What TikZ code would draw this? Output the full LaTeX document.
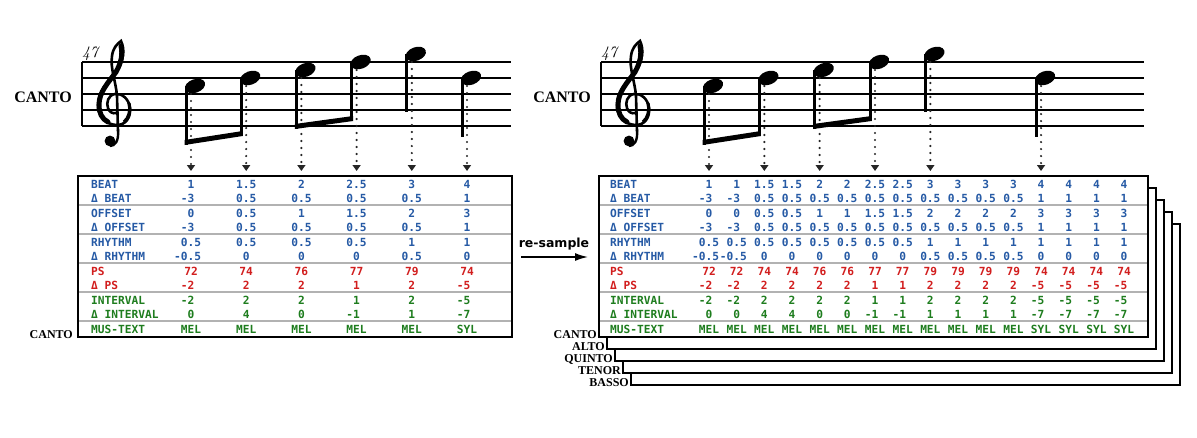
\documentclass[tikz,border=0pt]{standalone}
\usepackage{fontspec}
\newfontfamily\tablefont{DejaVu Sans Mono}
\newfontfamily\canto{Liberation Serif}
\newfontfamily\dejavu{DejaVu Sans}
\usetikzlibrary{arrows.meta,shapes.geometric}
\definecolor{blu}{RGB}{38,90,165}
\definecolor{rd}{RGB}{210,30,30}
\definecolor{grn}{RGB}{30,125,30}

% minus sign hangs left of the centred number
\newcommand\signed[1]{\expandafter\signedaux#1\relax}
\def\signedaux#1#2\relax{\ifx-#1\llap{-}#2\else#1#2\fi}

% staff, clef, bar number and part name
\newcommand\stave[3]{%
\begin{scope}[xshift=#1]
\foreach \ly in {62,78,94,110,126} \draw[staffline] (82,\ly) -- (#2,\ly);
\draw[staffline] (82,62) -- (82,126);
\node[font=\canto\bfseries\fontsize{16}{16}\selectfont,anchor=base east,inner sep=0] (part#3) at (72,102) {CANTO};
\node[font=\itshape\fontsize{16}{16}\selectfont,anchor=base west,inner sep=0] (bar#3) at (82,57) {47};
\draw[line width=2.6,line cap=round] (118,131) -- (117,96) .. controls (116,82) and (110,68) .. (112,56)
  .. controls (113,48) and (117,44) .. (121,41) .. controls (125,49) and (124,61) .. (116,72)
  .. controls (108,83) and (98,92) .. (98,105) .. controls (98,118) and (108,125) .. (117,125)
  .. controls (126,125) and (131,117) .. (130,108) .. controls (129,99) and (122,93) .. (115,94)
  .. controls (108,95) and (106,103) .. (108,108) .. controls (109,112) and (113,114) .. (116,113);
\draw[line width=5,line cap=round] (121,46) .. controls (123,55) and (121,63) .. (116,72)
  .. controls (108,83) and (99,92) .. (99,105) .. controls (99,113) and (102,119) .. (108,122);
\draw[line width=3.2] (129,103) .. controls (131,110) and (129,118) .. (124,122);
\draw[line width=2.4] (118,130) .. controls (119,141) and (115,146) .. (110,146);
\fill (110,141) circle (5.4);
\end{scope}}

\begin{document}
\begin{tikzpicture}[x=1pt,y=-1pt,
  staffline/.style={line width=1.4},
  head/.style={ellipse,fill,inner sep=0,minimum width=21,minimum height=13.5,rotate=20},
  dotarrow/.style={draw=black!85,line width=2.4,line cap=round,dash pattern=on 0pt off 7pt,
    -{Triangle[width=8pt,length=6pt]}},
  frame/.style={line width=2,fill=white},
  sep/.style={line width=1.2,gray!60},
  cell/.style={font=\tablefont\bfseries\fontsize{11.2}{12}\selectfont,inner sep=0,anchor=base},
  voice/.style={font=\canto\bfseries\fontsize{12}{12}\selectfont,inner sep=0,anchor=base east}]
\useasboundingbox (0,0) rectangle (1197,437);

\stave{0}{511}{L}
\stave{519}{625}{R}

% notes over the left table
\foreach \nn/\hy/\stemend in {1/86/145,2/78/136,3/70/129,4/62/121,5/54/112,6/78/137}{
  \pgfmathsetmacro\cx{191+55.2*(\nn-1)}
  \node[head] (hL\nn) at (\cx+4,\hy) {};
  \fill (\cx-6.5,\hy) rectangle (\cx-3.5,\stemend);
  \coordinate (sL\nn) at (\cx-5,\stemend);
  \coordinate (aL\nn) at (\cx,171);
  \draw[dotarrow] ([shift={(-4,8)}]hL\nn.center) -- (aL\nn);
}
\fill ([xshift=-1.5pt]sL1) -- ([xshift=1.5pt]sL2) -- ([shift={(1.5,-5)}]sL2) -- ([shift={(-1.5,-5)}]sL1) -- cycle;
\fill ([xshift=-1.5pt]sL3) -- ([xshift=1.5pt]sL4) -- ([shift={(1.5,-5)}]sL4) -- ([shift={(-1.5,-5)}]sL3) -- cycle;

% notes over the re-sampled table
\foreach \nn/\kk/\hy/\stemend in {1/1/86/145,2/3/78/136,3/5/70/129,4/7/62/121,5/9/54/112,6/13/78/137}{
  \pgfmathsetmacro\cx{709+27.67*(\kk-1)}
  \node[head] (hR\nn) at (\cx+4,\hy) {};
  \fill (\cx-6.5,\hy) rectangle (\cx-3.5,\stemend);
  \coordinate (sR\nn) at (\cx-5,\stemend);
  \coordinate (aR\nn) at (\cx,171);
  \draw[dotarrow] ([shift={(-4,8)}]hR\nn.center) -- (aR\nn);
}
\fill ([xshift=-1.5pt]sR1) -- ([xshift=1.5pt]sR2) -- ([shift={(1.5,-5)}]sR2) -- ([shift={(-1.5,-5)}]sR1) -- cycle;
\fill ([xshift=-1.5pt]sR3) -- ([xshift=1.5pt]sR4) -- ([shift={(1.5,-5)}]sR4) -- ([shift={(-1.5,-5)}]sR3) -- cycle;

% left table
\draw[frame] (78,176) rectangle (512,337);
\foreach \ns in {1,...,5} \draw[sep] (79,176+29*\ns) -- (511,176+29*\ns);
\foreach \lab/\clr/\vals [count=\row] in {
  BEAT/blu/{1,1.5,2,2.5,3,4},
  Δ BEAT/blu/{-3,0.5,0.5,0.5,0.5,1},
  OFFSET/blu/{0,0.5,1,1.5,2,3},
  Δ OFFSET/blu/{-3,0.5,0.5,0.5,0.5,1},
  RHYTHM/blu/{0.5,0.5,0.5,0.5,1,1},
  Δ RHYTHM/blu/{-0.5,0,0,0,0.5,0},
  PS/rd/{72,74,76,77,79,74},
  Δ PS/rd/{-2,2,2,1,2,-5},
  INTERVAL/grn/{-2,2,2,1,2,-5},
  Δ INTERVAL/grn/{0,4,0,-1,1,-7},
  MUS-TEXT/grn/{MEL,MEL,MEL,MEL,MEL,SYL}}{
  \pgfmathsetmacro\ry{188+14.5*(\row-1)}
  \node[cell,anchor=base west,text=\clr] (labL\row) at (91,\ry) {\lab};
  \foreach \val [count=\col] in \vals
    \node[cell,text=\clr] (L\row-\col) at ({191+55.2*(\col-1)},\ry) {\signed\val};
}
\node[voice] (vL) at (73,338) {CANTO};

% re-sample
\node[font=\dejavu\bfseries\fontsize{12.5}{13}\selectfont,inner sep=0] (rs) at (554,244) {re-sample};
\coordinate (rsA) at (521,257);
\coordinate (rsB) at (588,257);
\draw[line width=1.6,-{Latex[length=13pt,width=8pt]}] (rsA) -- (rsB);

% right table, one per voice
\foreach \kk in {4,3,2,1} \draw[frame] (599+8*\kk,176+12*\kk) rectangle (1148+8*\kk,337+12*\kk);
\draw[frame] (599,176) rectangle (1148,337);
\foreach \ns in {1,...,5} \draw[sep] (600,176+29*\ns) -- (1147,176+29*\ns);
\foreach \lab/\clr/\vals [count=\row] in {
  BEAT/blu/{1,1,1.5,1.5,2,2,2.5,2.5,3,3,3,3,4,4,4,4},
  Δ BEAT/blu/{-3,-3,0.5,0.5,0.5,0.5,0.5,0.5,0.5,0.5,0.5,0.5,1,1,1,1},
  OFFSET/blu/{0,0,0.5,0.5,1,1,1.5,1.5,2,2,2,2,3,3,3,3},
  Δ OFFSET/blu/{-3,-3,0.5,0.5,0.5,0.5,0.5,0.5,0.5,0.5,0.5,0.5,1,1,1,1},
  RHYTHM/blu/{0.5,0.5,0.5,0.5,0.5,0.5,0.5,0.5,1,1,1,1,1,1,1,1},
  Δ RHYTHM/blu/{-0.5,-0.5,0,0,0,0,0,0,0.5,0.5,0.5,0.5,0,0,0,0},
  PS/rd/{72,72,74,74,76,76,77,77,79,79,79,79,74,74,74,74},
  Δ PS/rd/{-2,-2,2,2,2,2,1,1,2,2,2,2,-5,-5,-5,-5},
  INTERVAL/grn/{-2,-2,2,2,2,2,1,1,2,2,2,2,-5,-5,-5,-5},
  Δ INTERVAL/grn/{0,0,4,4,0,0,-1,-1,1,1,1,1,-7,-7,-7,-7},
  MUS-TEXT/grn/{MEL,MEL,MEL,MEL,MEL,MEL,MEL,MEL,MEL,MEL,MEL,MEL,SYL,SYL,SYL,SYL}}{
  \pgfmathsetmacro\ry{188+14.5*(\row-1)}
  \node[cell,anchor=base west,text=\clr] (labR\row) at (610,\ry) {\lab};
  \foreach \val [count=\col] in \vals
    \node[cell,text=\clr] (R\row-\col) at ({709+27.67*(\col-1)},\ry) {\signed\val};
}
\foreach \lab [count=\kk from 0] in {CANTO,ALTO,QUINTO,TENOR,BASSO}
  \node[voice] (v\lab) at (597+8*\kk,338+12*\kk) {\lab};
\end{tikzpicture}
\end{document}
